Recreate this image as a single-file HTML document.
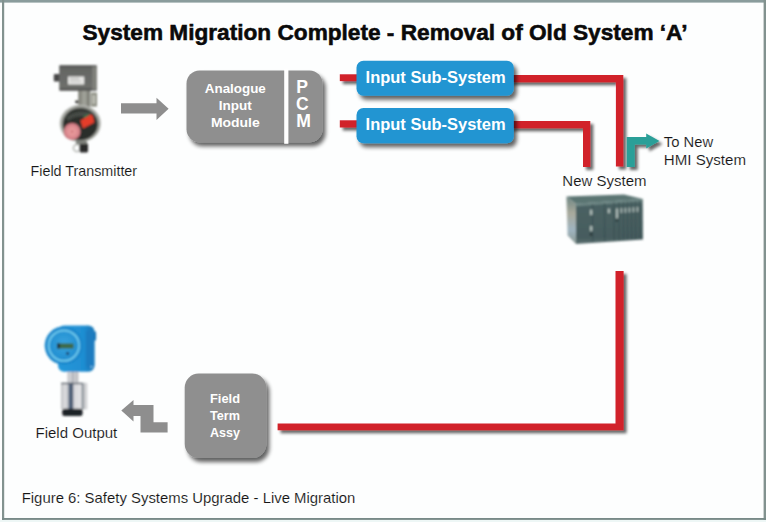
<!DOCTYPE html>
<html>
<head>
<meta charset="utf-8">
<title>System Migration Complete</title>
<style>
html,body{margin:0;padding:0;background:#fff;}
body{width:766px;height:522px;overflow:hidden;position:relative;font-family:"Liberation Sans",sans-serif;}
svg{position:absolute;left:0;top:0;display:block;}
text{font-family:"Liberation Sans",sans-serif;}
</style>
</head>
<body>
<svg width="766" height="522" viewBox="0 0 766 522">
<defs>
  <filter id="sh" x="-10%" y="-10%" width="130%" height="140%">
    <feGaussianBlur in="SourceAlpha" stdDeviation="2"/>
    <feOffset dx="2.5" dy="4" result="o"/>
    <feComponentTransfer><feFuncA type="linear" slope="0.62"/></feComponentTransfer>
    <feMerge><feMergeNode/><feMergeNode in="SourceGraphic"/></feMerge>
  </filter>
  <filter id="shl" x="-5%" y="-5%" width="115%" height="115%" filterUnits="userSpaceOnUse">
    <feGaussianBlur in="SourceAlpha" stdDeviation="1.5"/>
    <feOffset dx="3" dy="3.2" result="o"/>
    <feComponentTransfer><feFuncA type="linear" slope="0.6"/></feComponentTransfer>
    <feMerge><feMergeNode/><feMergeNode in="SourceGraphic"/></feMerge>
  </filter>
  <filter id="soft"><feGaussianBlur stdDeviation="0.8"/></filter>
  <filter id="soft2"><feGaussianBlur stdDeviation="0.9"/></filter>
</defs>

<!-- background + frame -->
<rect x="0" y="0" width="766" height="522" fill="#fdfefe"/>
<rect x="0" y="0" width="766" height="2.6" fill="#8a9c9c"/>
<rect x="2" y="0" width="2.2" height="520" fill="#82928f"/>
<rect x="763.6" y="0" width="2.4" height="520" fill="#82928f"/>
<rect x="2" y="518" width="764" height="1.9" fill="#788a88"/>
<rect x="0" y="520" width="766" height="2" fill="#eef7f6"/>

<!-- title -->
<text id="title" x="82.5" y="40" font-size="22.3" font-weight="bold" fill="#0a0a0a" stroke="#0a0a0a" stroke-width="0.55" textLength="605" lengthAdjust="spacingAndGlyphs">System Migration Complete - Removal of Old System ‘A’</text>

<!-- red connectors (top) -->
<g filter="url(#shl)" fill="#d1202b">
  <rect x="339.8" y="74.3" width="20" height="6.8"/>
  <rect x="339.8" y="120.3" width="20" height="7.2"/>
  <path d="M510 75 H623.3 V166.5 H615.9 V82.3 H510 Z"/>
  <path d="M510 121 H590.3 V167 H583 V128.3 H510 Z"/>
</g>
<!-- teal arrow -->
<g filter="url(#shl)">
  <path d="M626.7 167 V137 H646.2 V133.4 L659.5 141 L646.2 148.6 V144.6 H634.7 V167 Z" fill="#2a9f98"/>
</g>
<!-- red connector (bottom) -->
<g filter="url(#shl)" fill="#d1202b">
  <path d="M277.6 423.5 H615.5 V271 H623.6 V430.2 H277.6 Z"/>
</g>

<!-- gray arrow right -->
<path d="M121 103.2 H156.5 V97.7 L168.6 108.7 L156.5 120 V113.5 H121 Z" fill="#8e8e8e"/>
<!-- stepped arrow left -->
<path d="M121.3 410.6 L133.5 400 V405.1 H153.5 V422.3 H167.6 V432.4 H140.5 V416 H133.5 V421.6 Z" fill="#8e8e8e"/>

<!-- Analogue Input Module box -->
<g filter="url(#sh)">
  <rect x="186.5" y="70.5" width="136" height="71.8" rx="13" ry="13" fill="#8f8f8f"/>
</g>
<rect x="284.2" y="68.6" width="4.2" height="75.2" fill="#ffffff"/>
<g font-weight="bold" fill="#ffffff" font-size="13.6" text-anchor="middle">
  <text x="235.3" y="92.7" textLength="61" lengthAdjust="spacingAndGlyphs">Analogue</text>
  <text x="235.2" y="109.7" textLength="33" lengthAdjust="spacingAndGlyphs">Input</text>
  <text x="235.3" y="126.8" textLength="48.8" lengthAdjust="spacingAndGlyphs">Module</text>
</g>
<g font-weight="bold" fill="#ffffff" font-size="17.6">
  <text x="296.3" y="92.6">P</text>
  <text x="296" y="109.6">C</text>
  <text x="296.3" y="127">M</text>
</g>

<!-- Input Sub-System boxes -->
<g filter="url(#sh)">
  <rect x="356.5" y="60.7" width="157.3" height="35" rx="7" ry="7" fill="#2195d2"/>
  <rect x="356.5" y="107.9" width="157.3" height="35.3" rx="7" ry="7" fill="#2195d2"/>
</g>
<g font-weight="bold" fill="#ffffff" font-size="16.2">
  <text x="365.6" y="82.8" textLength="140" lengthAdjust="spacingAndGlyphs">Input Sub-System</text>
  <text x="365.6" y="130.3" textLength="140" lengthAdjust="spacingAndGlyphs">Input Sub-System</text>
</g>

<!-- Field Term Assy box -->
<g filter="url(#sh)">
  <rect x="184.7" y="373.6" width="81.6" height="84.4" rx="14" ry="14" fill="#8f8f8f"/>
</g>
<g font-weight="bold" fill="#ffffff" font-size="13.6" text-anchor="middle">
  <text x="225" y="403" textLength="30" lengthAdjust="spacingAndGlyphs">Field</text>
  <text x="225" y="420" textLength="30" lengthAdjust="spacingAndGlyphs">Term</text>
  <text x="225" y="437" textLength="30" lengthAdjust="spacingAndGlyphs">Assy</text>
</g>

<!-- labels -->
<g fill="#161616" font-size="14.8" stroke="#ffffff" stroke-width="0.12">
  <text x="30.5" y="175.8" textLength="106.6" lengthAdjust="spacingAndGlyphs">Field Transmitter</text>
  <text x="35.5" y="438.4" textLength="81.8" lengthAdjust="spacingAndGlyphs">Field Output</text>
  <text x="562.3" y="185.9" textLength="84.2" lengthAdjust="spacingAndGlyphs">New System</text>
  <text x="663.8" y="146.9" textLength="49.3" lengthAdjust="spacingAndGlyphs">To New</text>
  <text x="663.8" y="165.3" textLength="82.2" lengthAdjust="spacingAndGlyphs">HMI System</text>
  <text x="21.7" y="503.4" textLength="333.7" lengthAdjust="spacingAndGlyphs">Figure 6: Safety Systems Upgrade - Live Migration</text>
</g>

<!-- PHOTOS -->
<g id="transmitter" filter="url(#soft)">
  <defs>
    <linearGradient id="tbox" x1="0" y1="0" x2="0" y2="1">
      <stop offset="0" stop-color="#3e3f3e"/><stop offset="0.1" stop-color="#636563"/><stop offset="0.85" stop-color="#6e6f6c"/><stop offset="1" stop-color="#4a4b49"/>
    </linearGradient>
    <radialGradient id="tpink" cx="0.5" cy="0.5" r="0.5">
      <stop offset="0" stop-color="#eea2a2"/><stop offset="0.7" stop-color="#dc8a90"/><stop offset="1" stop-color="#c47078"/>
    </radialGradient>
    <linearGradient id="tneck" x1="0" y1="0" x2="1" y2="0">
      <stop offset="0" stop-color="#77786f"/><stop offset="0.5" stop-color="#a5a69e"/><stop offset="1" stop-color="#6f7068"/>
    </linearGradient>
  </defs>
  <!-- neck + bracket -->
  <rect x="78.3" y="89" width="12" height="18" fill="url(#tneck)"/>
  <rect x="91" y="92.6" width="6" height="14" fill="#8a8c80"/>
  <rect x="92.6" y="95" width="2.4" height="9" fill="#c4c6bc"/>
  <circle cx="76.8" cy="101.8" r="1.6" fill="#2c2c2a"/>
  <!-- knob -->
  <rect x="53.8" y="74" width="6.5" height="7.6" rx="1" fill="#474747"/>
  <!-- top box -->
  <rect x="59.2" y="65.2" width="37.7" height="25.6" rx="1" fill="url(#tbox)"/>
  <rect x="92.3" y="66.6" width="4.6" height="23" fill="#80817c"/>
  <rect x="68" y="76.5" width="16.2" height="8" fill="#e6e6e4"/>
  <rect x="70" y="78.2" width="9" height="0.9" fill="#a8a8a8"/>
  <rect x="70" y="80.8" width="11" height="0.9" fill="#b4b4b4"/>
  <!-- round body -->
  <ellipse cx="80.3" cy="123.5" rx="20.6" ry="18.8" fill="#b4b6b0"/>
  <ellipse cx="80.4" cy="123.8" rx="18.6" ry="17.2" fill="#80827c"/>
  <ellipse cx="80.3" cy="124.2" rx="17.2" ry="15.8" fill="#2b2f2b"/>
  <path d="M66 117 Q78 108 92 113 L88 118 Q78 114 68 121 Z" fill="#454a44"/>
  <path d="M83 116 L88 113.5 L90 116 L85 119 Z" fill="#3e6a48"/>
  <!-- red flag -->
  <path d="M80.4 120.6 L90.8 114.6 Q93 114 94.2 122.4 L82.9 128.6 Z" fill="#e53c2a"/>
  <!-- pink disc -->
  <circle cx="72.1" cy="131.6" r="8.5" fill="url(#tpink)"/>
  <circle cx="72.1" cy="131.6" r="1.2" fill="#c86a70"/>
  <!-- bottom fitting -->
  <circle cx="77" cy="148" r="3.6" fill="none" stroke="#b8bab6" stroke-width="1.6"/>
  <rect x="79.6" y="143" width="8.4" height="9.4" rx="1.5" fill="#2a2a2a"/>
  <rect x="76" y="141" width="11" height="3" fill="#7c7e78"/>
</g>
<g id="output" filter="url(#soft)">
  <defs>
    <linearGradient id="obody" x1="0" y1="0" x2="1" y2="0">
      <stop offset="0" stop-color="#2598da"/><stop offset="0.7" stop-color="#1f8ed2"/><stop offset="1" stop-color="#1876b6"/>
    </linearGradient>
    <radialGradient id="oface" cx="0.5" cy="0.45" r="0.55">
      <stop offset="0" stop-color="#3aa4de"/><stop offset="1" stop-color="#1c8ace"/>
    </radialGradient>
    <linearGradient id="ocyl" x1="0" y1="0" x2="1" y2="0">
      <stop offset="0" stop-color="#b4b6ba"/><stop offset="0.12" stop-color="#dedee0"/><stop offset="0.26" stop-color="#c8cace"/>
      <stop offset="0.30" stop-color="#55657c"/><stop offset="0.44" stop-color="#4a5a72"/><stop offset="0.48" stop-color="#d6d6da"/>
      <stop offset="0.74" stop-color="#e4e4e6"/><stop offset="0.82" stop-color="#7c848c"/><stop offset="0.88" stop-color="#c8cacc"/><stop offset="1" stop-color="#dcdcde"/>
    </linearGradient>
    <linearGradient id="oneck" x1="0" y1="0" x2="1" y2="0">
      <stop offset="0" stop-color="#c4c6ca"/><stop offset="0.44" stop-color="#d6d6da"/><stop offset="0.5" stop-color="#3c4656"/><stop offset="0.56" stop-color="#d0d0d4"/><stop offset="1" stop-color="#b6b8bc"/>
    </linearGradient>
  </defs>
  <!-- neck -->
  <rect x="67.4" y="370" width="11" height="14" fill="url(#oneck)"/>
  <!-- cylinder -->
  <rect x="61.1" y="382.8" width="26.4" height="26.6" rx="1.2" fill="url(#ocyl)"/>
  <rect x="61.1" y="382.8" width="21" height="1.4" fill="#5a626c"/>
  <!-- cap -->
  <rect x="62.2" y="408.8" width="20.4" height="7.2" rx="2.2" fill="#1e2228"/>
  <!-- body -->
  <rect x="91.5" y="331" width="4.6" height="10" rx="2" fill="#1a74b2"/>
  <rect x="58" y="325.4" width="36.4" height="46.4" rx="6" fill="url(#obody)"/>
  <rect x="86" y="330" width="8.4" height="38" rx="3" fill="#1a7cc0"/>
  <circle cx="63.9" cy="345.6" r="19.2" fill="#1c88cc"/>
  <circle cx="63.9" cy="345.6" r="17" fill="url(#oface)"/>
  <circle cx="63.9" cy="345.6" r="15.2" fill="none" stroke="#79d4f2" stroke-width="1.5"/>
  <!-- display -->
  <rect x="57" y="343.4" width="16.6" height="5" rx="0.6" fill="#3d6944"/>
  <rect x="57" y="343.4" width="3" height="5" fill="#22323c"/>
  <circle cx="67.6" cy="353.5" r="1.4" fill="#1e3458"/>
  <circle cx="91.4" cy="366.8" r="0.9" fill="#9adcf6"/>
</g>
<g id="rack" filter="url(#soft)">
  <defs>
    <linearGradient id="rside" x1="0" y1="0" x2="0" y2="1">
      <stop offset="0" stop-color="#6f8683"/><stop offset="0.35" stop-color="#a9aa9c"/><stop offset="0.7" stop-color="#9fb4c0"/><stop offset="1" stop-color="#8c9a94"/>
    </linearGradient>
    <linearGradient id="rfront" x1="0" y1="0" x2="0" y2="1">
      <stop offset="0" stop-color="#5f7877"/><stop offset="0.12" stop-color="#4a6263"/><stop offset="0.85" stop-color="#465c5e"/><stop offset="1" stop-color="#5a6f70"/>
    </linearGradient>
  </defs>
  <!-- top -->
  <path d="M566.4 196.6 L624 194.4 L642.8 199 L575.8 203.8 Z" fill="#5a7472"/>
  <!-- side -->
  <path d="M566.4 196.6 L575.8 203.8 L576 244 L567.6 235.4 Z" fill="url(#rside)"/>
  <!-- front -->
  <path d="M575.8 203.8 L642.8 199 L643 239.4 L576 244 Z" fill="url(#rfront)"/>
  <path d="M575.8 203.8 L642.8 199 L642.8 201.2 L575.8 206.2 Z" fill="#6d8684"/>
  <!-- modules -->
  <g stroke="#34494b" stroke-width="0.8">
    <line x1="592.6" y1="204" x2="592.8" y2="242"/>
    <line x1="604.5" y1="203" x2="604.7" y2="241.4"/>
    <line x1="614" y1="202.4" x2="614.2" y2="240.8"/>
    <line x1="619" y1="202" x2="619.2" y2="240.4"/>
    <line x1="623.4" y1="201.8" x2="623.6" y2="240.1"/>
    <line x1="627.4" y1="201.5" x2="627.6" y2="239.8"/>
    <line x1="631.4" y1="201.2" x2="631.6" y2="239.5"/>
    <line x1="635.4" y1="200.9" x2="635.6" y2="239.2"/>
    <line x1="639.6" y1="200.6" x2="639.8" y2="239"/>
  </g>
  <g fill="#aebcb8">
    <rect x="590" y="209.6" width="2.4" height="5.4"/>
    <rect x="590" y="226" width="2.4" height="5"/>
    <rect x="607.8" y="208.6" width="2.2" height="4.6"/>
    <rect x="616" y="208.4" width="2" height="10"/>
    <rect x="620.6" y="208" width="1.6" height="5"/>
    <rect x="624.6" y="207.8" width="1.6" height="5"/>
    <rect x="628.6" y="207.5" width="1.6" height="5"/>
    <rect x="632.6" y="207.2" width="1.6" height="5"/>
    <rect x="636.6" y="206.9" width="1.6" height="5"/>
  </g>
  <circle cx="591" cy="234.4" r="1.2" fill="#1c2626"/>
  <circle cx="616.8" cy="220.4" r="1.1" fill="#1c2626"/>
</g>
</svg>
</body>
</html>
